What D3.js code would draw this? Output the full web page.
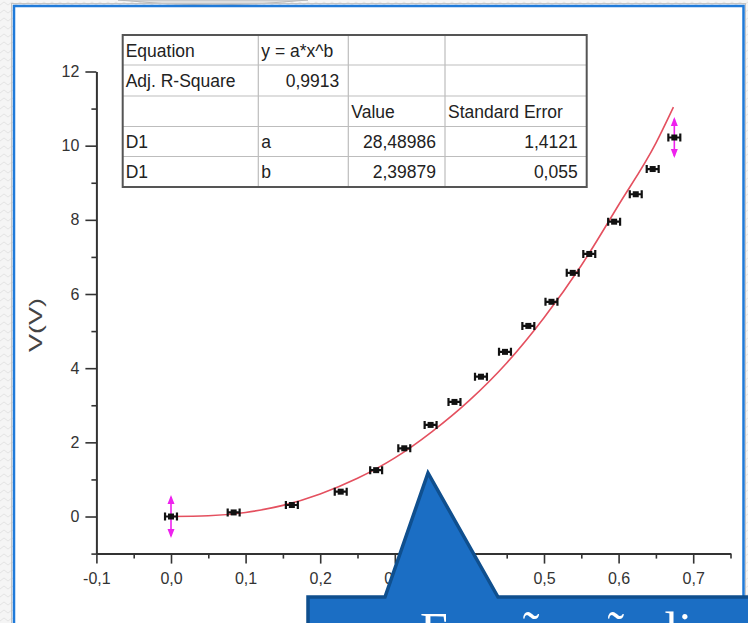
<!DOCTYPE html>
<html>
<head>
<meta charset="utf-8">
<script src="https://cdn.jsdelivr.net/npm/d3@7"></script>
<style>
  html, body { margin: 0; padding: 0; background: #f4f4f4; overflow: hidden; }
  svg { display: block; }
  .tick text { font-family: "Liberation Sans", Arial, sans-serif; fill: #333; }
</style>
</head>
<body>
<div id="chart"></div>
<script>
const xValues = [0, 0.084, 0.162, 0.2275, 0.275, 0.3127, 0.348, 0.380, 0.4155, 0.4477,
                 0.479, 0.510, 0.5385, 0.5607, 0.594, 0.623, 0.6457, 0.6747];
const yValues = [0, 0.11, 0.31, 0.67, 1.25, 1.84, 2.47, 3.09, 3.77, 4.44,
                 5.14, 5.79, 6.57, 7.08, 7.95, 8.69, 9.37, 10.22];
const yErrors = [0.58, 0, 0, 0, 0, 0, 0, 0, 0, 0, 0, 0, 0, 0, 0, 0, 0, 0.55];
const xError = 0.008;

// Fitted curve as it appears in the picture
const fitX = [0, 0.05, 0.1, 0.15, 0.2, 0.25, 0.3, 0.35, 0.4, 0.45, 0.5, 0.55, 0.6, 0.65, 0.6735];
const fitY = [0, 0.02, 0.11, 0.30, 0.61, 1.03, 1.58, 2.29, 3.13, 4.14, 5.36, 6.77, 8.40, 10.07, 11.04];

// Axis ticks
const xMajorTicks = [-0.1, 0, 0.1, 0.2, 0.3, 0.4, 0.5, 0.6, 0.7];
const xMinorTicks = [-0.05, 0.05, 0.15, 0.25, 0.35, 0.45, 0.55, 0.65, 0.75];
const yMajorTicks = [0, 2, 4, 6, 8, 10, 12];
const yMinorTicks = [-1, 1, 3, 5, 7, 9, 11];
const yLabel = 'V(V)';

// Fit result table
const tableRows = [
  ['Equation', 'y = a*x^b', '', ''],
  ['Adj. R-Square', '0,9913', '', ''],
  ['', '', 'Value', 'Standard Error'],
  ['D1', 'a', '28,48986', '1,4121'],
  ['D1', 'b', '2,39879', '0,055']
];
const calloutText = 'Função não linear';

const width = 748;
const height = 623;

const svg = d3.select('#chart')
  .append('svg')
    .attr('width', width)
    .attr('height', height);

// Page background with faint wavy pattern
const defs = svg.append('defs');
const pattern = defs.append('pattern')
    .attr('id', 'wave')
    .attr('width', 8)
    .attr('height', 8)
    .attr('patternUnits', 'userSpaceOnUse');
pattern.append('rect').attr('width', 8).attr('height', 8).attr('fill', '#f5f5f5');
pattern.append('path')
    .attr('d', 'M0,5 L4,2 L8,5')
    .attr('fill', 'none')
    .attr('stroke', '#e4e4e4')
    .attr('stroke-width', 1);
svg.append('rect').attr('width', width).attr('height', height).attr('fill', 'url(#wave)');

// Gray shape peeking in at the top
svg.append('path')
    .attr('d', 'M118,0 Q212,10 308,0 Z')
    .attr('fill', '#dedede')
    .attr('stroke', '#b8b8b8');

// Slide frame
svg.append('rect')
    .attr('x', 11.5).attr('y', 3.5)
    .attr('width', 734).attr('height', 700)
    .attr('fill', 'none')
    .attr('stroke', '#c4c4c4');
svg.append('rect')
    .attr('x', 14).attr('y', 6)
    .attr('width', 729.5).attr('height', 700)
    .attr('fill', '#ffffff')
    .attr('stroke', '#1f7ad9')
    .attr('stroke-width', 2.5);

// Scales
const xScale = d3.scaleLinear().domain([-0.1, 0.75]).range([96.4, 730.5]);
const yScale = d3.scaleLinear().domain([-1, 12]).range([553.6, 71.5]);
const fmt = d => d3.format('.1f')(d).replace('.', ',').replace('\u2212', '-');

const plot = svg.append('g');

// X axis
const xAxis = plot.append('g')
    .attr('transform', `translate(0, ${yScale(-1)})`)
    .call(d3.axisBottom(xScale).tickValues(xMajorTicks).tickFormat(fmt).tickSize(10).tickSizeOuter(0));
xAxis.select('.domain').attr('stroke', '#333').attr('stroke-width', 2);
xAxis.selectAll('.tick line').attr('stroke', '#333').attr('stroke-width', 1.6);
xAxis.selectAll('.tick text')
    .attr('y', 30).attr('dy', 0)
    .style('font-size', '16px');
plot.append('g')
    .attr('transform', `translate(0, ${yScale(-1)})`)
    .call(d3.axisBottom(xScale).tickValues(xMinorTicks).tickFormat('').tickSize(5).tickSizeOuter(0))
    .call(g => g.select('.domain').remove())
    .selectAll('.tick line').attr('stroke', '#333').attr('stroke-width', 1.6);

// Y axis
const yAxis = plot.append('g')
    .attr('transform', `translate(${xScale(-0.1)}, 0)`)
    .call(d3.axisLeft(yScale).tickValues(yMajorTicks).tickSize(11).tickPadding(6).tickSizeOuter(0));
yAxis.select('.domain').attr('stroke', '#333').attr('stroke-width', 2);
yAxis.selectAll('.tick line').attr('stroke', '#333').attr('stroke-width', 1.6);
yAxis.selectAll('.tick text').style('font-size', '16px');
plot.append('g')
    .attr('transform', `translate(${xScale(-0.1)}, 0)`)
    .call(d3.axisLeft(yScale).tickValues(yMinorTicks).tickFormat('').tickSize(5).tickSizeOuter(0))
    .call(g => g.select('.domain').remove())
    .selectAll('.tick line').attr('stroke', '#333').attr('stroke-width', 1.6);

// Y axis title
plot.append('text')
    .attr('transform', `translate(42, ${(yScale(4) + yScale(6)) / 2 - 6}) rotate(-90)`)
    .attr('text-anchor', 'middle')
    .attr('font-family', '"Liberation Sans", Arial, sans-serif')
    .attr('font-size', 18)
    .attr('fill', '#444')
    .attr('textLength', 54)
    .attr('lengthAdjust', 'spacingAndGlyphs')
    .text(yLabel);

// Fitted curve
const fitData = fitX.map((x, i) => [x, fitY[i]]);
const line = d3.line()
    .x(d => xScale(d[0]))
    .y(d => yScale(d[1]))
    .curve(d3.curveMonotoneX);
plot.append('path')
    .datum(fitData)
    .attr('d', line)
    .attr('fill', 'none')
    .attr('stroke', '#e4505f')
    .attr('stroke-width', 1.6);

// Data points with error bars
const points = xValues.map((x, i) => ({ x: x, y: yValues[i], ey: yErrors[i] }));
const pointG = plot.append('g')
  .selectAll('g')
  .data(points)
  .join('g');

// Vertical (magenta) error bars
pointG.filter(d => d.ey > 0).each(function(d){
  const g = d3.select(this);
  const cx = xScale(d.x);
  const top = yScale(d.y + d.ey);
  const bottom = yScale(d.y - d.ey);
  g.append('line')
      .attr('x1', cx).attr('x2', cx)
      .attr('y1', top + 2).attr('y2', bottom - 2)
      .attr('stroke', '#ee22ee')
      .attr('stroke-width', 1.6);
  g.append('path')
      .attr('d', `M${cx},${top} l-3.5,9 l7,0 Z M${cx},${bottom} l-3.5,-9 l7,0 Z`)
      .attr('fill', '#ee22ee');
});

// Horizontal error bars
pointG.append('path')
    .attr('d', d => {
      const x0 = xScale(d.x - xError);
      const x1 = xScale(d.x + xError);
      const cy = yScale(d.y);
      return `M${x0},${cy} L${x1},${cy} M${x0},${cy - 4} L${x0},${cy + 4} M${x1},${cy - 4} L${x1},${cy + 4}`;
    })
    .attr('fill', 'none')
    .attr('stroke', '#111')
    .attr('stroke-width', 2.2);

// Markers
pointG.append('rect')
    .attr('x', d => xScale(d.x) - 3)
    .attr('y', d => yScale(d.y) - 3)
    .attr('width', 6)
    .attr('height', 6)
    .attr('fill', '#111');

// Fit result table
const colEdges = [122.7, 258.3, 348.3, 445, 586.7];
const rowEdges = [35, 65, 96, 126.5, 156.5, 187];
const table = svg.append('g');
table.append('rect')
    .attr('x', colEdges[0]).attr('y', rowEdges[0])
    .attr('width', colEdges[4] - colEdges[0])
    .attr('height', rowEdges[5] - rowEdges[0])
    .attr('fill', '#ffffff');
// Inner grid
rowEdges.slice(1, -1).forEach(y => {
  table.append('line')
      .attr('x1', colEdges[0]).attr('x2', colEdges[4])
      .attr('y1', y).attr('y2', y)
      .attr('stroke', '#bdbdbd').attr('stroke-width', 1.2);
});
colEdges.slice(1, -1).forEach(x => {
  table.append('line')
      .attr('x1', x).attr('x2', x)
      .attr('y1', rowEdges[0]).attr('y2', rowEdges[5])
      .attr('stroke', '#bdbdbd').attr('stroke-width', 1.2);
});
table.append('rect')
    .attr('x', colEdges[0]).attr('y', rowEdges[0])
    .attr('width', colEdges[4] - colEdges[0])
    .attr('height', rowEdges[5] - rowEdges[0])
    .attr('fill', 'none')
    .attr('stroke', '#555')
    .attr('stroke-width', 2);

// Cell text, numbers right aligned
const isNumber = s => /^[0-9,]+$/.test(s);
tableRows.forEach((row, r) => {
  row.forEach((cell, c) => {
    if (cell === '') return;
    const right = isNumber(cell);
    table.append('text')
        .attr('x', right ? colEdges[c + 1] - 9 : colEdges[c] + 3)
        .attr('y', rowEdges[r] + 21.5)
        .attr('text-anchor', right ? 'end' : 'start')
        .attr('font-family', '"Liberation Sans", Arial, sans-serif')
        .attr('font-size', 17.5)
        .attr('fill', '#222')
        .text(cell);
  });
});

// Callout shape at the bottom
svg.append('path')
    .attr('d', 'M308,597 L385,597 L428,473 L498,597 L770,597 L770,660 L308,660 Z')
    .attr('fill', '#1b6ec4')
    .attr('stroke', '#0f4f8e')
    .attr('stroke-width', 3.5)
    .attr('stroke-linejoin', 'miter');
svg.append('text')
    .attr('x', 420)
    .attr('y', 647)
    .attr('font-family', '"Liberation Serif", "Times New Roman", serif')
    .attr('font-size', 50)
    .attr('fill', '#ffffff')
    .text(calloutText);
</script>
</body>
</html>
